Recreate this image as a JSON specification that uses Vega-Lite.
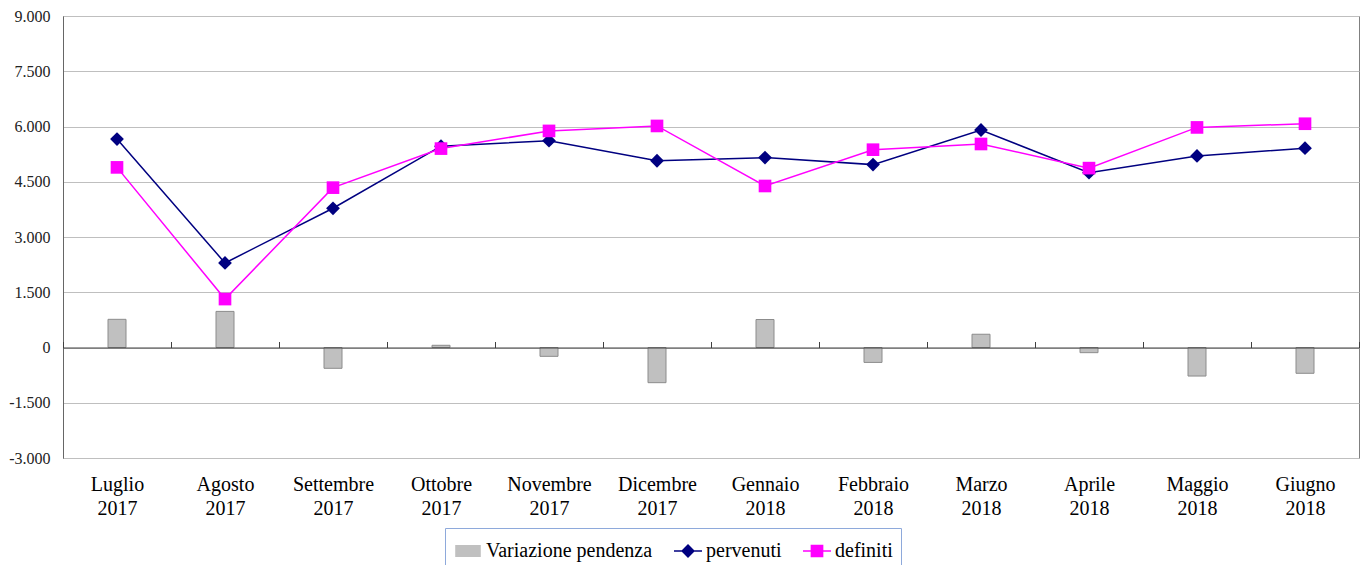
{
  "$schema": "https://vega.github.io/schema/vega-lite/v6.json",
  "width": 1296,
  "height": 442,
  "autosize": "none",
  "padding": {"left": 63, "top": 16, "right": 8, "bottom": 107},
  "config": {"view": {"stroke": "#808080", "strokeWidth": 1}, "font": "Liberation Serif"},
  "data": {"values": [
    {"mese": "Luglio 2017", "series": "Variazione pendenza", "value": 765},
    {"mese": "Agosto 2017", "series": "Variazione pendenza", "value": 980},
    {"mese": "Settembre 2017", "series": "Variazione pendenza", "value": -565},
    {"mese": "Ottobre 2017", "series": "Variazione pendenza", "value": 60},
    {"mese": "Novembre 2017", "series": "Variazione pendenza", "value": -240},
    {"mese": "Dicembre 2017", "series": "Variazione pendenza", "value": -955},
    {"mese": "Gennaio 2018", "series": "Variazione pendenza", "value": 760},
    {"mese": "Febbraio 2018", "series": "Variazione pendenza", "value": -405},
    {"mese": "Marzo 2018", "series": "Variazione pendenza", "value": 360},
    {"mese": "Aprile 2018", "series": "Variazione pendenza", "value": -140},
    {"mese": "Maggio 2018", "series": "Variazione pendenza", "value": -775},
    {"mese": "Giugno 2018", "series": "Variazione pendenza", "value": -700},
    {"mese": "Luglio 2017", "series": "pervenuti", "value": 5660},
    {"mese": "Agosto 2017", "series": "pervenuti", "value": 2295},
    {"mese": "Settembre 2017", "series": "pervenuti", "value": 3780},
    {"mese": "Ottobre 2017", "series": "pervenuti", "value": 5465},
    {"mese": "Novembre 2017", "series": "pervenuti", "value": 5615},
    {"mese": "Dicembre 2017", "series": "pervenuti", "value": 5070},
    {"mese": "Gennaio 2018", "series": "pervenuti", "value": 5155},
    {"mese": "Febbraio 2018", "series": "pervenuti", "value": 4965},
    {"mese": "Marzo 2018", "series": "pervenuti", "value": 5905},
    {"mese": "Aprile 2018", "series": "pervenuti", "value": 4745},
    {"mese": "Maggio 2018", "series": "pervenuti", "value": 5200},
    {"mese": "Giugno 2018", "series": "pervenuti", "value": 5410},
    {"mese": "Luglio 2017", "series": "definiti", "value": 4890},
    {"mese": "Agosto 2017", "series": "definiti", "value": 1315},
    {"mese": "Settembre 2017", "series": "definiti", "value": 4340},
    {"mese": "Ottobre 2017", "series": "definiti", "value": 5400},
    {"mese": "Novembre 2017", "series": "definiti", "value": 5880},
    {"mese": "Dicembre 2017", "series": "definiti", "value": 6015},
    {"mese": "Gennaio 2018", "series": "definiti", "value": 4385},
    {"mese": "Febbraio 2018", "series": "definiti", "value": 5370},
    {"mese": "Marzo 2018", "series": "definiti", "value": 5525},
    {"mese": "Aprile 2018", "series": "definiti", "value": 4870},
    {"mese": "Maggio 2018", "series": "definiti", "value": 5975},
    {"mese": "Giugno 2018", "series": "definiti", "value": 6075}
  ]},
  "encoding": {
    "x": {
      "field": "mese", "type": "nominal", "sort": null,
      "scale": {"paddingInner": 0, "paddingOuter": 0},
      "axis": {
        "title": null, "orient": "bottom", "offset": -110.5,
        "domainColor": "#404040", "domainWidth": 1,
        "tickColor": "#404040", "tickBand": "extent", "tickSize": -6, "tickWidth": 1,
        "labelPadding": 132.5, "labelAngle": 0, "labelFontSize": 20, "labelFont": "Liberation Serif",
        "labelColor": "#000000", "labelBaseline": "top", "labelLineHeight": 24,
        "labelExpr": "split(datum.label, ' ')", "labelOverlap": false, "labelFlush": false,
        "grid": false, "zindex": 1
      }
    },
    "y": {
      "field": "value", "type": "quantitative",
      "scale": {"domain": [-3000, 9000], "nice": false, "zero": false},
      "axis": {
        "title": null, "values": [-3000, -1500, 0, 1500, 3000, 4500, 6000, 7500, 9000],
        "ticks": false, "labelPadding": 13, "labelFontSize": 16, "labelFont": "Liberation Serif",
        "labelColor": "#222222", "domainColor": "#666666", "gridColor": "#BFBFBF", "gridWidth": 1,
        "labelExpr": "(datum.value < 0 ? '-' : '') + replace(format(abs(datum.value), ','), ',', '.')"
      }
    },
    "color": {
      "field": "series", "type": "nominal",
      "scale": {"domain": ["Variazione pendenza", "pervenuti", "definiti"], "range": ["#C0C0C0", "#000080", "#FF00FF"]},
      "legend": {
        "title": null, "orient": "none", "legendX": 382, "legendY": 512, "direction": "horizontal",
        "symbolSize": 784, "symbolStrokeWidth": 1.5,
        "labelFontSize": 20, "labelFont": "Liberation Serif", "labelColor": "#000000", "labelOffset": 3,
        "labelLimit": 400,
        "strokeColor": "#8EA9DB", "padding": 8, "columnPadding": 18,
        "encode": {
          "symbols": {
            "update": {
              "shape": {"signal": "datum.value === 'Variazione pendenza' ? 'M-0.86,-0.38H0.86V0.38H-0.86Z' : datum.value === 'pervenuti' ? 'M-1,0H1M0,-0.42L0.42,0L0,0.42L-0.42,0Z' : 'M-1,0H1M-0.4,-0.4H0.4V0.4H-0.4Z'"},
              "fill": {"signal": "datum.value === 'Variazione pendenza' ? '#C0C0C0' : datum.value === 'pervenuti' ? '#000080' : '#FF00FF'"},
              "stroke": {"signal": "datum.value === 'Variazione pendenza' ? '#A0A0A0' : datum.value === 'pervenuti' ? '#000080' : '#FF00FF'"},
              "strokeWidth": {"value": 1.5},
              "opacity": {"value": 1},
              "fillOpacity": {"value": 1},
              "strokeOpacity": {"value": 1}
            }
          }
        }
      }
    }
  },
  "layer": [
    {
      "transform": [{"filter": "datum.series === 'Variazione pendenza'"}],
      "mark": {"type": "bar", "size": 18, "stroke": "#8C8C8C", "strokeWidth": 1, "opacity": 1},
      "encoding": {"y2": {"datum": 0}}
    },
    {
      "transform": [{"filter": "datum.series === 'pervenuti'"}],
      "mark": {"type": "line", "strokeWidth": 1.5}
    },
    {
      "transform": [{"filter": "datum.series === 'pervenuti'"}],
      "mark": {"type": "point", "filled": true, "shape": "diamond", "size": 190, "opacity": 1}
    },
    {
      "transform": [{"filter": "datum.series === 'definiti'"}],
      "mark": {"type": "line", "strokeWidth": 1.5}
    },
    {
      "transform": [{"filter": "datum.series === 'definiti'"}],
      "mark": {"type": "point", "filled": true, "shape": "square", "size": 160, "opacity": 1}
    }
  ]
}
